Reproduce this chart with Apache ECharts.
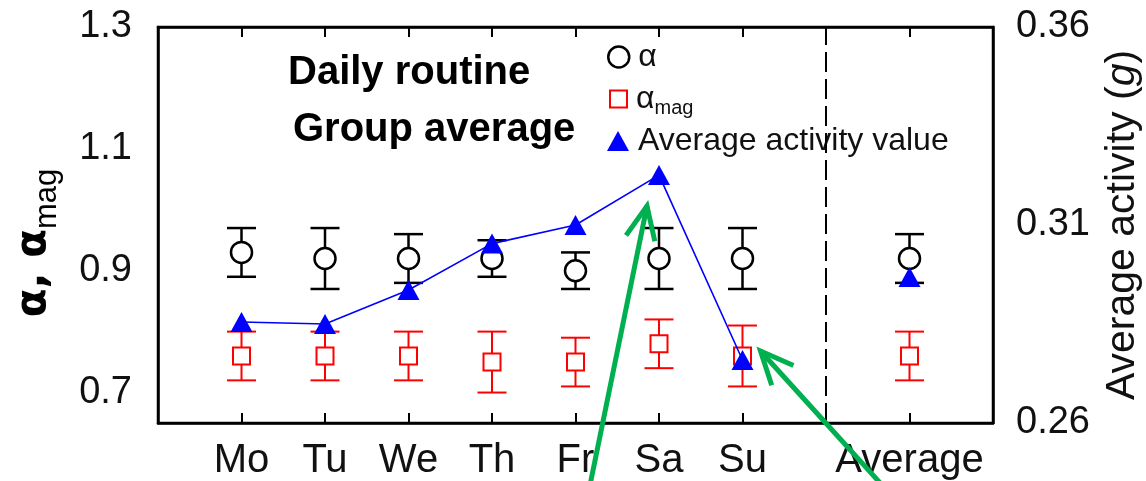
<!DOCTYPE html>
<html>
<head>
<meta charset="utf-8">
<script src="https://cdn.jsdelivr.net/npm/echarts@6/dist/echarts.min.js"></script>
<style>
html,body{margin:0;padding:0;background:#fff;}
#c{width:1146px;height:481px;}
</style>
</head>
<body>
<div id="c"></div>
<script>
// ---- data ----
const xCategories = ['', 'Mo', 'Tu', 'We', 'Th', 'Fr', 'Sa', 'Su', ' ', 'Average', '  '];
const groups = ['Mo', 'Tu', 'We', 'Th', 'Fr', 'Sa', 'Su', 'Average'];
const alpha = [0.93, 0.92, 0.92, 0.92, 0.90, 0.92, 0.92, 0.92];
const alphaErr = [0.04, 0.05, 0.04, 0.03, 0.03, 0.05, 0.05, 0.04];
const alphaMag = [0.76, 0.76, 0.76, 0.75, 0.75, 0.78, 0.76, 0.76];
const alphaMagErr = [0.04, 0.04, 0.04, 0.05, 0.04, 0.04, 0.05, 0.04];
const days = ['Mo', 'Tu', 'We', 'Th', 'Fr', 'Sa', 'Su'];
const activityDays = [0.2855, 0.2850, 0.2936, 0.3053, 0.3100, 0.3226, 0.2759];
const activityAverage = 0.2969;
const leftLabels = [0.7, 0.9, 1.1, 1.3];
const leftMinor = [0.8, 1.0, 1.2];
const rightLabels = [0.26, 0.31, 0.36];
const rightMinor = [0.27, 0.28, 0.29, 0.30, 0.32, 0.33, 0.34, 0.35];
const dividerCategory = ' ';

const FONT = "'Liberation Sans', Arial, sans-serif";
const idx = g => xCategories.indexOf(g);

function errBar(color, lw) {
  return function (params, api) {
    const x = api.value(0), lo = api.value(1), hi = api.value(2);
    const a = api.coord([x, lo]), b = api.coord([x, hi]);
    const hw = 14.5;
    const st = { stroke: color, lineWidth: lw };
    return {
      type: 'group', children: [
        { type: 'line', shape: { x1: a[0], y1: a[1], x2: b[0], y2: b[1] }, style: st },
        { type: 'line', shape: { x1: a[0] - hw, y1: a[1], x2: a[0] + hw, y2: a[1] }, style: st },
        { type: 'line', shape: { x1: b[0] - hw, y1: b[1], x2: b[0] + hw, y2: b[1] }, style: st }
      ]
    };
  };
}

const chart = echarts.init(document.getElementById('c'), null, { renderer: 'canvas' });

const tickStyle = { color: '#000', width: 2 };
const legendText = { fontFamily: FONT, fontSize: 32, color: '#111', padding: [0, 0, 0, 4],
  rich: { a: { fontFamily: FONT, fontSize: 32, color: '#111' },
          s: { fontFamily: FONT, fontSize: 20, color: '#111', padding: [18, 0, 0, 0] } } };

const option = {
  animation: false,
  backgroundColor: '#fff',
  title: [
    { text: 'Daily routine', left: 288, top: 53, padding: 0,
      textStyle: { fontFamily: FONT, fontSize: 40, fontWeight: 'bold', color: '#000' } },
    { text: 'Group average', left: 293, top: 110, padding: 0,
      textStyle: { fontFamily: FONT, fontSize: 40, fontWeight: 'bold', color: '#000' } }
  ],
  legend: [
    { data: [{ name: 'α', icon: 'circle', itemStyle: { color: '#fff', borderColor: '#000', borderWidth: 2.5 } }],
      left: 607, top: 41, padding: 0, itemWidth: 21, itemHeight: 21, selectedMode: false, textStyle: legendText },
    { data: [{ name: 'αmag', icon: 'rect', itemStyle: { color: '#fff', borderColor: '#ff0000', borderWidth: 2 } }],
      left: 609, top: 83, padding: 0, itemWidth: 17, itemHeight: 17, selectedMode: false, textStyle: legendText,
      formatter: () => '{a|α}{s|mag}' },
    { data: [{ name: 'Average activity value', icon: 'triangle', itemStyle: { color: '#0000ff' } }],
      left: 607, top: 125, padding: 0, itemWidth: 22, itemHeight: 20, selectedMode: false, textStyle: legendText }
  ],
  grid: { left: 158, right: 153, top: 27, bottom: 58, outerBoundsMode: 'none', containLabel: false,
    show: true, borderColor: '#000', borderWidth: 2.5, backgroundColor: 'transparent' },
  xAxis: [
    { type: 'category', data: xCategories, boundaryGap: false, position: 'bottom',
      axisLine: { lineStyle: { color: '#000', width: 2.5 } },
      axisTick: { inside: true, length: 10, lineStyle: tickStyle, interval: 0 },
      axisLabel: { interval: 0, fontFamily: FONT, fontSize: 40, color: '#111', margin: 18 } },
    { type: 'category', data: xCategories, boundaryGap: false, position: 'top',
      axisLine: { lineStyle: { color: '#000', width: 2.5 } },
      axisTick: { inside: true, length: 10, lineStyle: tickStyle, interval: 0 },
      axisLabel: { show: false } }
  ],
  yAxis: [
    { type: 'value', position: 'left', min: 0.65, max: 1.3, splitLine: { show: false },
      axisLine: { show: true, lineStyle: { color: '#000', width: 2.5 } },
      axisTick: { inside: true, length: 12, lineStyle: tickStyle, customValues: leftLabels },
      axisLabel: { customValues: leftLabels, formatter: v => v.toFixed(1), fontFamily: FONT, fontSize: 38, color: '#111', margin: 26 },
      name: '{a|α, α}{s|mag}', nameLocation: 'middle', nameRotate: 90, nameGap: 95,
      nameTextStyle: { padding: [0, 36, 0, 0], rich: {
        a: { fontFamily: "'DejaVu Sans', sans-serif", fontSize: 42, fontWeight: 'bold', color: '#000' },
        s: { fontFamily: FONT, fontSize: 31, color: '#000', padding: [26, 0, 0, 0] } } } },
    { type: 'value', position: 'right', min: 0.26, max: 0.36, splitLine: { show: false },
      axisLine: { show: true, lineStyle: { color: '#000', width: 2.5 } },
      axisTick: { inside: true, length: 13, lineStyle: tickStyle, customValues: rightLabels },
      axisLabel: { customValues: rightLabels, formatter: v => v.toFixed(2), fontFamily: FONT, fontSize: 38, color: '#111', margin: 23 },
      name: 'Average activity ({i|g})', nameLocation: 'middle', nameRotate: 90, nameGap: 109,
      nameTextStyle: { fontFamily: FONT, fontSize: 41, color: '#111',
        rich: { i: { fontFamily: FONT, fontSize: 41, fontStyle: 'italic', color: '#111' } } } },
    { type: 'value', position: 'left', min: 0.65, max: 1.3, splitLine: { show: false },
      axisLine: { show: false },
      axisTick: { inside: true, length: 7, lineStyle: tickStyle, customValues: leftMinor },
      axisLabel: { show: false } },
    { type: 'value', position: 'right', min: 0.26, max: 0.36, splitLine: { show: false },
      axisLine: { show: false },
      axisTick: { inside: true, length: 8, lineStyle: tickStyle, customValues: rightMinor },
      axisLabel: { show: false } }
  ],
  series: [
    { type: 'custom', name: 'alphaErr', xAxisIndex: 0, yAxisIndex: 0, z: 2,
      renderItem: errBar('#000', 2.5),
      data: groups.map((g, i) => [idx(g), alpha[i] - alphaErr[i], alpha[i] + alphaErr[i]]),
      markLine: { silent: true, symbol: 'none', label: { show: false },
        lineStyle: { color: '#000', width: 2, type: [20, 7] },
        data: [{ xAxis: idx(dividerCategory) }] } },
    { type: 'custom', name: 'magErr', xAxisIndex: 0, yAxisIndex: 0, z: 2,
      renderItem: errBar('#ff0000', 2),
      data: groups.map((g, i) => [idx(g), alphaMag[i] - alphaMagErr[i], alphaMag[i] + alphaMagErr[i]]) },
    { type: 'scatter', name: 'α', xAxisIndex: 0, yAxisIndex: 0, z: 3,
      symbol: 'circle', symbolSize: 21,
      itemStyle: { color: '#fff', borderColor: '#000', borderWidth: 2.5, opacity: 1 },
      data: groups.map((g, i) => [idx(g), alpha[i]]) },
    { type: 'scatter', name: 'αmag', xAxisIndex: 0, yAxisIndex: 0, z: 3,
      symbol: 'rect', symbolSize: 17,
      itemStyle: { color: '#fff', borderColor: '#ff0000', borderWidth: 2, opacity: 1 },
      data: groups.map((g, i) => [idx(g), alphaMag[i]]) },
    { type: 'line', name: 'Average activity value', xAxisIndex: 0, yAxisIndex: 1, z: 4,
      symbol: 'triangle', symbolSize: [22, 20], showSymbol: true,
      lineStyle: { color: '#0000ff', width: 1.6 },
      itemStyle: { color: '#0000ff' },
      data: days.map((d, i) => [idx(d), activityDays[i]]) },
    { type: 'scatter', name: 'Average activity value', xAxisIndex: 0, yAxisIndex: 1, z: 4,
      symbol: 'triangle', symbolSize: [22, 20],
      itemStyle: { color: '#0000ff', opacity: 1 },
      data: [[idx('Average'), activityAverage]] }
  ]
};
chart.setOption(option);

// green annotation arrows pointing at the Sa and Su activity points
function arrow(tip, tail, headLen, headAng) {
  const ang = Math.atan2(tail[1] - tip[1], tail[0] - tip[0]);
  const b1 = [tip[0] + headLen * Math.cos(ang + headAng), tip[1] + headLen * Math.sin(ang + headAng)];
  const b2 = [tip[0] + headLen * Math.cos(ang - headAng), tip[1] + headLen * Math.sin(ang - headAng)];
  const st = { stroke: '#00b050', lineWidth: 5, lineCap: 'butt', lineJoin: 'miter', fill: null };
  return [
    { type: 'polyline', shape: { points: [tail, tip] }, style: st, z: 10 },
    { type: 'polyline', shape: { points: [b1, tip, b2] }, style: st, z: 10 }
  ];
}
const pSa = chart.convertToPixel({ xAxisIndex: 0, yAxisIndex: 1 }, [idx('Sa'), activityDays[days.indexOf('Sa')]]);
const pSu = chart.convertToPixel({ xAxisIndex: 0, yAxisIndex: 1 }, [idx('Su'), activityDays[days.indexOf('Su')]]);
const tip1 = [pSa[0] - 12, pSa[1] + 31];
const tip2 = [pSu[0] + 18, pSu[1] - 9];
chart.setOption({
  graphic: [].concat(
    arrow(tip1, [tip1[0] - 58, 490], 36, 0.42),
    arrow(tip2, [tip2[0] + 126, 490], 36, 0.42)
  )
});
</script>
</body>
</html>
